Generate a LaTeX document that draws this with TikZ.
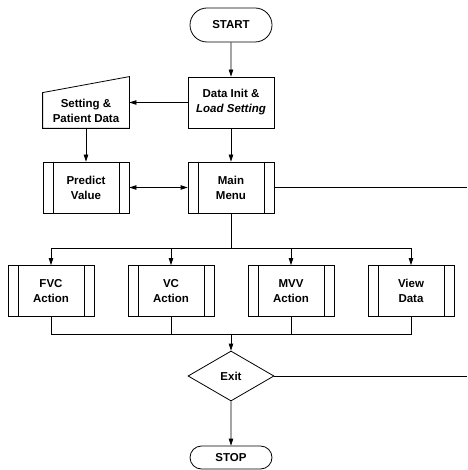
\documentclass[tikz,border=0pt]{standalone}
\usepackage{fontspec}
\setmainfont{Liberation Sans}
\usetikzlibrary{arrows.meta,shapes.geometric,shapes.misc,calc}

\begin{document}
\begin{tikzpicture}[x=1pt,y=-1pt,line width=0.8pt,
      >={Triangle[width=4.5pt,length=7pt]},
      every node/.style={font=\fontsize{11.5}{15}\selectfont\bfseries,align=center,inner sep=2pt},
      terminal/.style={draw,rounded rectangle,minimum width=86pt,minimum height=34pt},
      procbox/.style={draw,rectangle,minimum width=86pt,minimum height=51pt},
      decision/.style={draw,diamond,minimum width=86pt,minimum height=50pt,inner sep=0pt}]
  \useasboundingbox(0,0)rectangle(467,470);
  % nodes
  \node[terminal](start)at(231,25){START};
  \node[procbox](init)at(231,102.5){Data Init \&\\\textit{Load Setting}};
  \node[minimum width=86pt,minimum height=35pt](setting)at(86,110.5){Setting \&\\Patient Data};
  \draw([yshift=0pt]setting.south west)--(setting.south east)--([yshift=16pt]setting.north east)--(setting.north west)--cycle;
  \node[procbox](predict)at(86,187.5){Predict\\Value};
  \node[procbox](main)at(231,187.5){Main\\Menu};
  \node[procbox](fvc)at(51,291){FVC\\Action};
  \node[procbox](vc)at(171,291){VC\\Action};
  \node[procbox](mvv)at(291,291){MVV\\Action};
  \node[procbox](view)at(411,291){View\\Data};
  \node[decision](exit)at(231,376){Exit};
  \node[terminal,minimum height=23pt](stop)at(231,457.5){STOP};
  \foreach \n in {predict,main,fvc,vc,mvv,view}
    \draw([xshift=10.5pt]\n.north west)--([xshift=10.5pt]\n.south west)
      ([xshift=-10.5pt]\n.north east)--([xshift=-10.5pt]\n.south east);
  \coordinate(split)at(231,248);
  \coordinate(join)at(231,334);
  \coordinate(rmain)at(467,187.5);
  \coordinate(rexit)at(467,376);
  % connectors
  \draw[->](start)--(init);
  \draw[->](init.west)--(init.west-|setting.east);
  \draw[->](setting)--(predict);
  \draw[->](init)--(main);
  \draw[<->](predict)--(main);
  \draw(main)--(rmain);
  \draw(main)--(split);
  \foreach \n in {fvc,vc,mvv,view}{
    \draw[->](split)-|(\n.north);
    \draw(\n.south)|-(join);}
  \draw[->](join)--(exit);
  \draw(exit)--(rexit);
  \draw[->](exit)--(stop);
\end{tikzpicture}
\end{document}
